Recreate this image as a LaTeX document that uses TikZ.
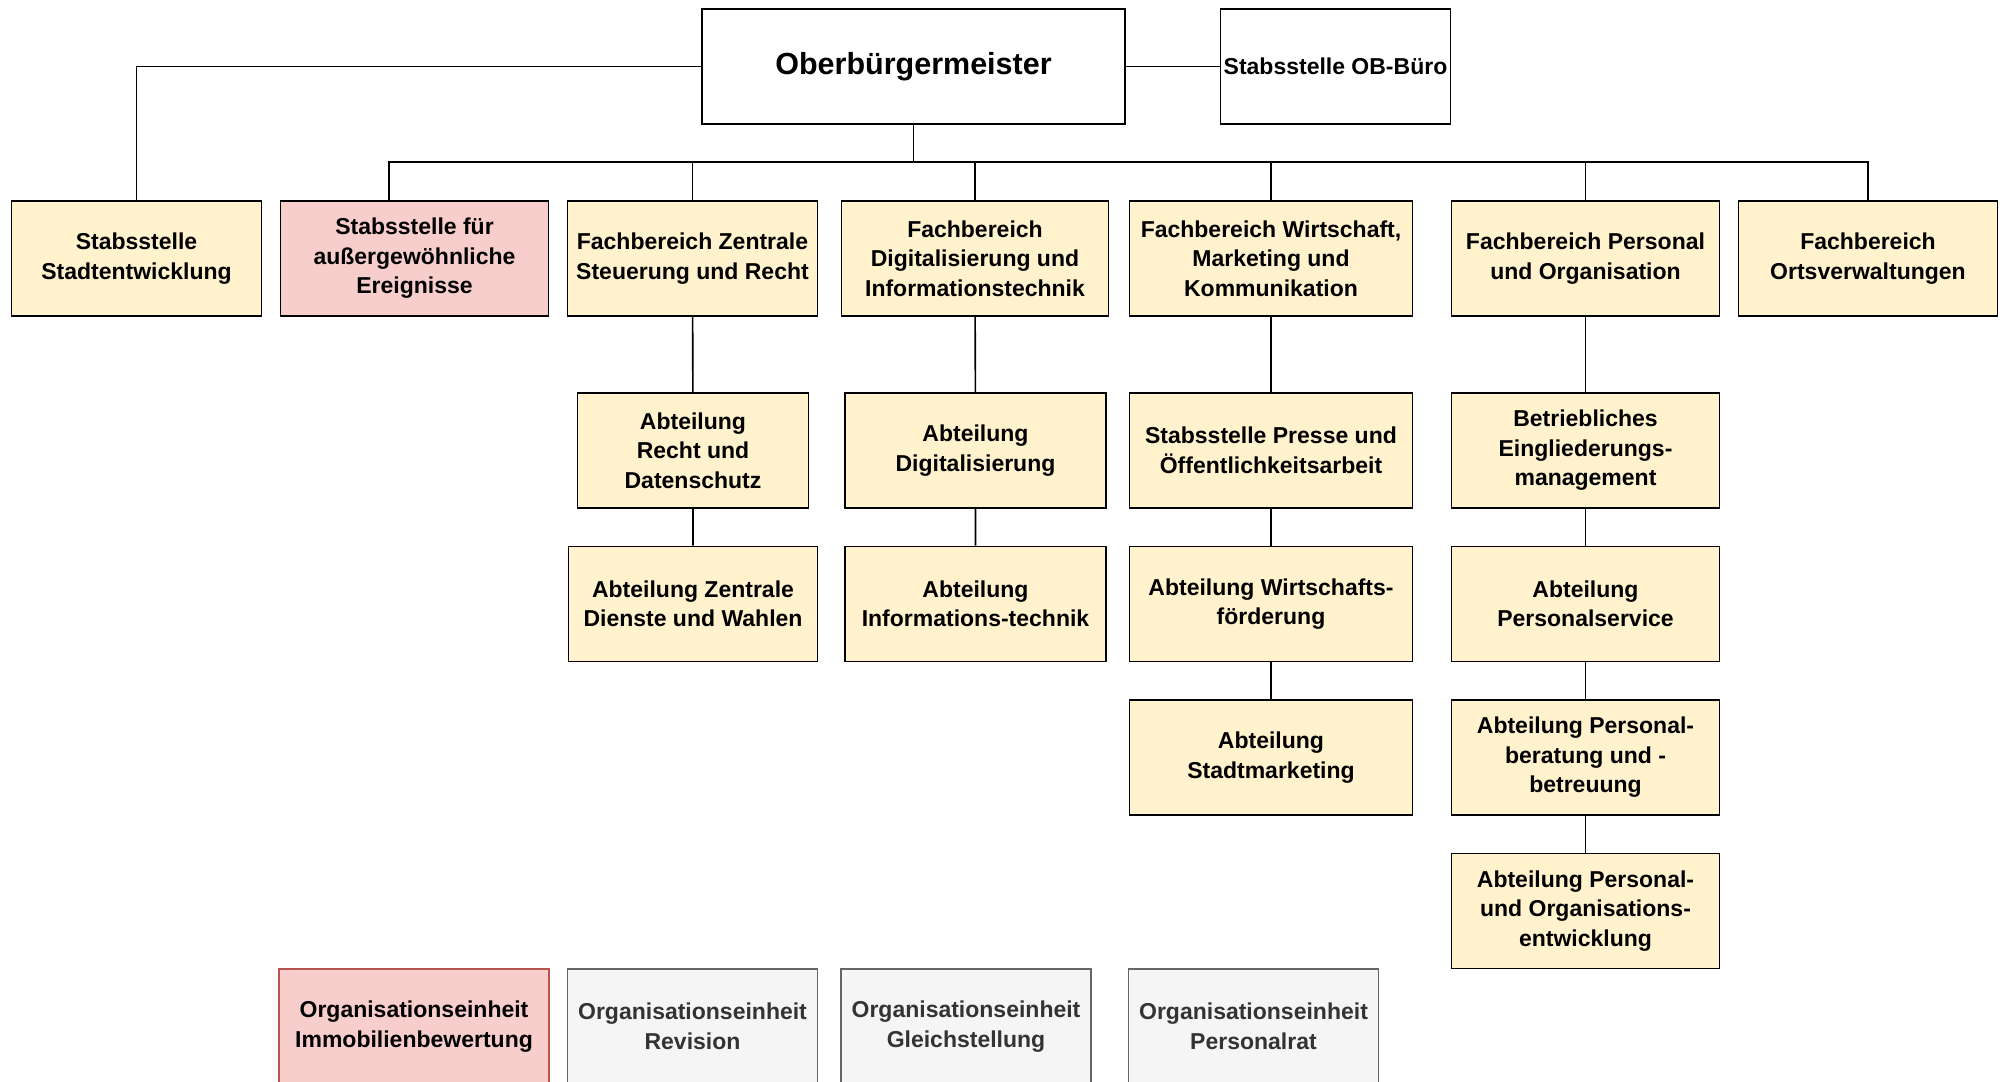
\documentclass[tikz,border=0pt]{standalone}
\usepackage{fontspec}
\setmainfont{Liberation Sans}
\usetikzlibrary{positioning,calc}
\definecolor{amt}{HTML}{FFF2CC}
\definecolor{alarm}{HTML}{F8CECC}
\definecolor{alarmline}{HTML}{B85450}
\definecolor{extra}{HTML}{F5F5F5}
\definecolor{extraline}{HTML}{666666}
\definecolor{extratext}{HTML}{333333}

\begin{document}
\begin{tikzpicture}[x=1pt, y=-1pt,
  unit/.style={draw, line width=1.8pt, minimum height=115pt, inner sep=2pt,
               align=center, font=\fontsize{23}{29.5}\selectfont\bfseries},
  fb/.style={unit, fill=amt},
  krise/.style={unit, fill=alarm},
  extern/.style={unit, fill=extra, draw=extraline, text=extratext},
  link/.style={line width=1.6pt}]
  \clip (0,0) rectangle (2006,1082);
  % Spitze
  \node[unit, minimum width=423pt, font=\fontsize{30.5}{36}\selectfont\bfseries]
    (ob) at (913.5,66.5) {Oberbürgermeister};
  \node[unit, minimum width=230pt] (buero) at (1335.5,66.5) {Stabsstelle OB-Büro};
  % Fachbereiche und Stabsstellen
  \node[fb, minimum width=250pt] (stadt) at (136.5,258.5) {Stabsstelle\\Stadtentwicklung};
  \node[krise, minimum width=268pt] (aus) at (414.5,258.5) {Stabsstelle für\\außergewöhnliche\\Ereignisse};
  \node[fb, minimum width=250pt] (zsr) at (692.5,258.5) {Fachbereich Zentrale\\Steuerung und Recht};
  \node[fb, minimum width=267pt] (dit) at (975,258.5) {Fachbereich\\Digitalisierung und\\Informationstechnik};
  \node[fb, minimum width=283pt] (wmk) at (1271,258.5) {Fachbereich Wirtschaft,\\Marketing und\\Kommunikation};
  \node[fb, minimum width=268pt] (puo) at (1585.5,258.5) {Fachbereich Personal\\und Organisation};
  \node[fb, minimum width=259pt] (orts) at (1868,258.5) {Fachbereich\\Ortsverwaltungen};
  % Abteilungen
  \node[fb, minimum width=231pt] (recht) at (693,450.5) {Abteilung\\Recht und\\Datenschutz};
  \node[fb, minimum width=249pt] (dienste) at (693,604) {Abteilung Zentrale\\Dienste und Wahlen};
  \node[fb, minimum width=261pt] (digi) at (975.5,450.5) {Abteilung\\Digitalisierung};
  \node[fb, minimum width=261pt] (it) at (975.5,604) {Abteilung\\Informations-technik};
  \node[fb, minimum width=283pt] (presse) at (1271,450.5) {Stabsstelle Presse und\\Öffentlichkeitsarbeit};
  \node[fb, minimum width=283pt] (wf) at (1271,604) {Abteilung Wirtschafts-\\förderung};
  \node[fb, minimum width=283pt] (marketing) at (1271,757.5) {Abteilung\\Stadtmarketing};
  \node[fb, minimum width=268pt] (bem) at (1585.5,450.5) {Betriebliches\\Eingliederungs-\\management};
  \node[fb, minimum width=268pt] (service) at (1585.5,604) {Abteilung\\Personalservice};
  \node[fb, minimum width=268pt] (beratung) at (1585.5,757.5) {Abteilung Personal-\\beratung und -\\betreuung};
  \node[fb, minimum width=268pt] (entw) at (1585.5,911) {Abteilung Personal-\\und Organisations-\\entwicklung};
  % Organisationseinheiten
  \node[krise, draw=alarmline, minimum width=270pt] (immo) at (414,1026.5) {Organisationseinheit\\Immobilienbewertung};
  \node[extern, minimum width=250pt] (rev) at (692.5,1026.5) {Organisationseinheit\\Revision};
  \node[extern, minimum width=250pt] (gleich) at (966,1026.5) {Organisationseinheit\\Gleichstellung};
  \node[extern, minimum width=250pt] (prat) at (1253.5,1026.5) {Organisationseinheit\\Personalrat};
  % Verbindungen
  \coordinate (bus) at (0,162);
  \draw[link] (ob.west) -| (stadt.north);
  \draw[link] (ob.east) -- (buero.west);
  \draw[link] (ob.south) -- (ob.south |- bus);
  \draw[link] ([xshift=-25.5pt]aus.north) |- (bus -| orts.north) -- (orts.north);
  \foreach \n in {zsr, dit, wmk, puo}
    \draw[link] (\n.north) -- (\n.north |- bus);
  \draw[link] (zsr) -- (recht) -- (dienste);
  \draw[link] (dit) -- (digi) -- (it);
  \draw[link] (wmk) -- (presse) -- (wf) -- (marketing);
  \draw[link] (puo) -- (bem) -- (service) -- (beratung) -- (entw);
\end{tikzpicture}
\end{document}
